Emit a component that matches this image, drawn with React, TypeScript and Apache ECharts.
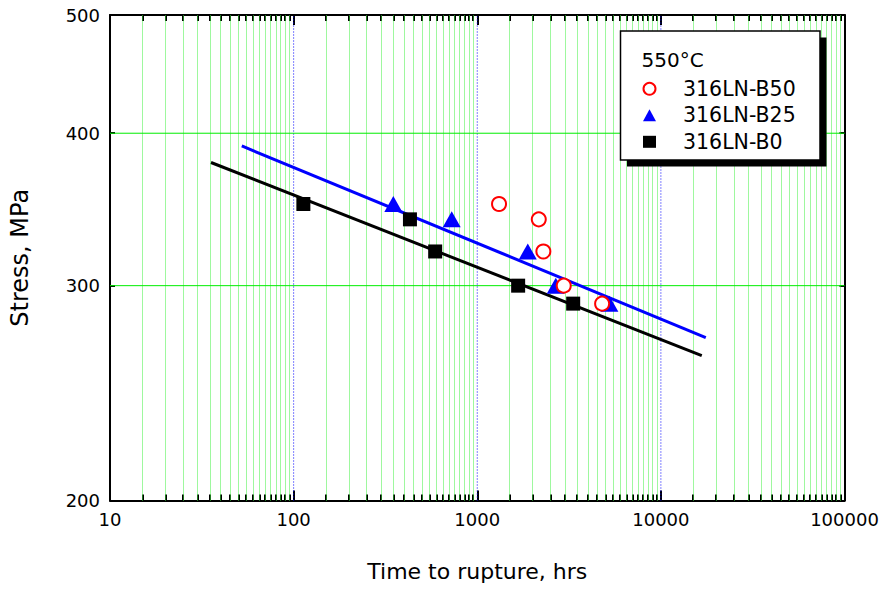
import React, { useEffect, useRef } from 'react';
import * as echarts from 'echarts';

// Rupture data (time in hours, stress in MPa)
const stressLevels = [350, 340, 320, 300, 290];
const timeB50 = [1314, 2163, 2291, 2958, 4786];
const timeB25 = [349, 726, 1884, 2677, 5243];
const timeB0 = [113, 430, 590, 1670, 3330];

// Fitted lines (end points)
const fitB25Time = [52.2, 17560];
const fitB25Stress = [390.5, 272];
const fitB0Time = [35.5, 16700];
const fitB0Stress = [378.5, 262.9];

// Axis ticks
const xTickLabels = [10, 100, 1000, 10000, 100000];
const yTickLabels = [200, 300, 400, 500];
const minorMultipliers = [1.5, 2, 2.5, 3, 3.5, 4, 4.5, 5, 5.5, 6, 6.5, 7, 7.5, 8, 8.5, 9, 9.5];

const seriesNames = ['316LN-B50', '316LN-B25', '316LN-B0'];
const legendTitle = '550°C';

const FONT = 'DejaVu Sans';
const lg = (v: number) => Math.log10(v);
const pairs = (xs: number[], ys: number[]) => xs.map((x, i) => [lg(x), lg(ys[i])]);

export default function App() {
  const ref = useRef<HTMLDivElement>(null);

  useEffect(() => {
    const chart = echarts.init(ref.current!, null, { renderer: 'svg' });

    const majorX = xTickLabels.map(lg);
    const minorX: number[] = [];
    for (let d = 0; d < xTickLabels.length - 1; d++) {
      minorMultipliers.forEach((m) => minorX.push(lg(xTickLabels[d] * m)));
    }
    const yVals = yTickLabels.map(lg);
    const xMin = majorX[0];
    const xMax = majorX[majorX.length - 1];
    const yMin = yVals[0];
    const yMax = yVals[yVals.length - 1];
    const fmt = (v: number) => String(Math.round(Math.pow(10, v)));

    const blackLine = { color: '#000', width: 2 };
    const baseX = { type: 'value', min: xMin, max: xMax, gridIndex: 0, splitLine: { show: false } };

    const gridMarks: any[] = minorX.map((v) => ({
      xAxis: v,
      lineStyle: { color: '#3cf03c', width: 1, type: [1, 1] },
    }));

    const gridLine = (name: string, data: number[][], lineStyle: any) => ({
      name,
      type: 'line',
      xAxisIndex: 0,
      yAxisIndex: 0,
      data,
      showSymbol: false,
      symbol: 'none',
      silent: true,
      z: 1,
      lineStyle,
    });

    // decade grid lines (blue dotted) and horizontal grid lines (green solid)
    const vGridSeries = majorX.slice(1, -1).map((v, i) =>
      gridLine('vgridMajor' + i, [[v, yMin], [v, yMax]], { color: '#0000ff', width: 1, type: [1, 2] })
    );
    const hGridSeries = yVals.slice(1, -1).map((v, i) =>
      gridLine('hgrid' + i, [[xMin, v], [xMax, v]], { color: '#00ee00', width: 1, type: 'solid' })
    );

    const option: any = {
      animation: false,
      backgroundColor: '#fff',
      grid: { left: 110, right: 37.5, top: 15, bottom: 89.5, containLabel: false },
      xAxis: [
        {
          ...baseX,
          position: 'bottom',
          axisLine: { show: true, lineStyle: blackLine },
          axisTick: { show: true, inside: true, length: 10, customValues: majorX, lineStyle: blackLine },
          axisLabel: {
            show: true,
            customValues: majorX,
            formatter: fmt,
            fontSize: 18,
            fontFamily: FONT,
            color: '#000',
            margin: 10,
          },
          name: 'Time to rupture, hrs',
          nameLocation: 'middle',
          nameGap: 60,
          nameTextStyle: { fontSize: 22, fontFamily: FONT, color: '#000' },
        },
        {
          ...baseX,
          position: 'bottom',
          axisLine: { show: false },
          axisTick: { show: true, inside: true, length: 6, customValues: minorX, lineStyle: blackLine },
          axisLabel: { show: false },
        },
        {
          ...baseX,
          position: 'top',
          axisLine: { show: true, lineStyle: blackLine },
          axisTick: { show: true, inside: true, length: 10, customValues: majorX, lineStyle: blackLine },
          axisLabel: { show: false },
        },
        {
          ...baseX,
          position: 'top',
          axisLine: { show: false },
          axisTick: { show: true, inside: true, length: 6, customValues: minorX, lineStyle: blackLine },
          axisLabel: { show: false },
        },
      ],
      yAxis: [
        {
          type: 'value',
          min: yMin,
          max: yMax,
          position: 'left',
          axisLine: { show: true, lineStyle: blackLine },
          axisTick: { show: true, inside: true, length: 5, customValues: yVals, lineStyle: blackLine },
          axisLabel: {
            show: true,
            customValues: yVals,
            formatter: fmt,
            fontSize: 18,
            fontFamily: FONT,
            color: '#000',
            margin: 10,
          },
          splitLine: { show: false },
          name: 'Stress, MPa',
          nameLocation: 'middle',
          nameGap: 78,
          nameRotate: 90,
          nameTextStyle: { fontSize: 24, fontFamily: FONT, color: '#000' },
        },
        {
          type: 'value',
          min: yMin,
          max: yMax,
          position: 'right',
          axisLine: { show: true, lineStyle: blackLine },
          axisTick: { show: true, inside: true, length: 5, customValues: yVals, lineStyle: blackLine },
          axisLabel: { show: false },
          splitLine: { show: false },
        },
      ],
      legend: {
        data: seriesNames,
        orient: 'vertical',
        left: 642.5,
        top: 78.3,
        padding: 0,
        itemWidth: 13,
        itemHeight: 12,
        itemGap: 5.5,
        selectedMode: false,
        z: 6,
        formatter: (name: string) => '{t|' + name + '}',
        textStyle: {
          fontSize: 20,
          fontFamily: FONT,
          color: '#000',
          lineHeight: 20,
          rich: {
            t: { fontSize: 20.5, fontFamily: FONT, color: '#000', lineHeight: 20, padding: [0, 0, 0, 22] },
          },
        },
      },
      graphic: [
        {
          type: 'rect',
          z: 3,
          shape: { x: 627, y: 37.5, width: 199.5, height: 129 },
          style: { fill: '#000' },
        },
        {
          type: 'rect',
          z: 3,
          shape: { x: 620.5, y: 31, width: 199.5, height: 129 },
          style: { fill: '#fff', stroke: '#000', lineWidth: 1.5 },
        },
        {
          type: 'text',
          z: 6,
          x: 641.5,
          y: 60,
          style: {
            text: legendTitle,
            fontSize: 20,
            fontFamily: FONT,
            fill: '#000',
            verticalAlign: 'middle',
            align: 'left',
          },
        },
      ],
      series: [
        {
          name: 'vgrid',
          type: 'line',
          xAxisIndex: 0,
          yAxisIndex: 0,
          data: [],
          z: 1,
          silent: true,
          markLine: {
            z: 1,
            precision: 10,
            silent: true,
            symbol: ['none', 'none'],
            label: { show: false },
            emphasis: { disabled: true },
            animation: false,
            data: gridMarks,
          },
        },
        ...vGridSeries,
        ...hGridSeries,
        {
          name: 'fitB0',
          type: 'line',
          xAxisIndex: 0,
          yAxisIndex: 0,
          data: pairs(fitB0Time, fitB0Stress),
          showSymbol: false,
          symbol: 'none',
          lineStyle: { color: '#000', width: 3 },
          z: 2,
          silent: true,
        },
        {
          name: 'fitB25',
          type: 'line',
          xAxisIndex: 0,
          yAxisIndex: 0,
          data: pairs(fitB25Time, fitB25Stress),
          showSymbol: false,
          symbol: 'none',
          lineStyle: { color: '#0000ff', width: 3 },
          z: 2,
          silent: true,
        },
        {
          name: seriesNames[2],
          type: 'scatter',
          xAxisIndex: 0,
          yAxisIndex: 0,
          data: pairs(timeB0, stressLevels),
          symbol: 'rect',
          symbolSize: 14,
          itemStyle: { color: '#000', opacity: 1 },
          z: 3,
        },
        {
          name: seriesNames[1],
          type: 'scatter',
          xAxisIndex: 0,
          yAxisIndex: 0,
          data: pairs(timeB25, stressLevels),
          symbol: 'triangle',
          symbolSize: [18, 16],
          itemStyle: { color: '#0000ff', opacity: 1 },
          z: 3,
        },
        {
          name: seriesNames[0],
          type: 'scatter',
          xAxisIndex: 0,
          yAxisIndex: 0,
          data: pairs(timeB50, stressLevels),
          symbol: 'emptyCircle',
          symbolSize: 14,
          itemStyle: { color: '#ff0000', borderColor: '#ff0000', borderWidth: 1.5, opacity: 1 },
          z: 4,
        },
      ],
    };

    chart.setOption(option);
    return () => chart.dispose();
  }, []);

  return (
    <div
      ref={ref}
      style={{ position: 'absolute', left: 0, top: 0, width: 882, height: 590, background: '#fff' }}
    />
  );
}
